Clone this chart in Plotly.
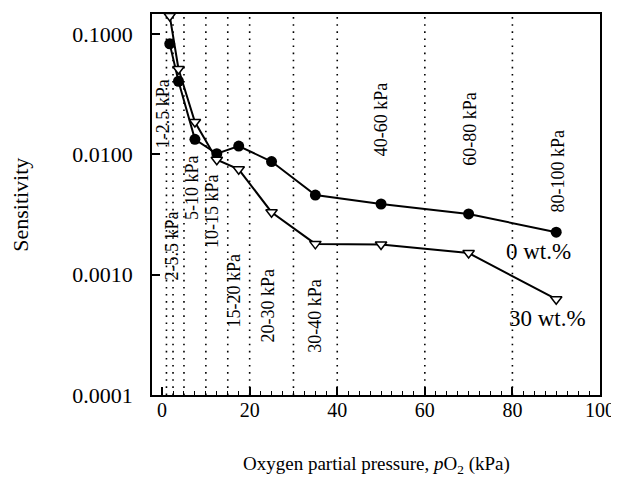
import plotly.graph_objects as go

# ---- data ----
pressure = [1.75, 3.75, 7.5, 12.5, 17.5, 25, 35, 50, 70, 90]
sens_0wt = [0.0826, 0.0404, 0.0133, 0.0101, 0.0117, 0.0087, 0.00458, 0.00386, 0.00319, 0.00225]
sens_30wt = [0.141, 0.0511, 0.0185, 0.0090, 0.0075, 0.0033, 0.0018, 0.00178, 0.00151, 0.000625]
boundaries = [1, 2.5, 5, 10, 15, 20, 30, 40, 60, 80]
interval_labels = ["1-2.5 kPa", "2-5.5 kPa", "5-10 kPa", "10-15 kPa", "15-20 kPa",
                   "20-30 kPa", "30-40 kPa", "40-60 kPa", "60-80 kPa", "80-100 kPa"]
label_x = [0.4, 2.2, 6.8, 11.4, 16.2, 24.2, 35, 50.2, 70.4, 90.5]
label_logy = [-1.661, -2.76, -2.273, -2.471, -3.132, -3.256, -3.339, -1.711, -1.785, -2.14]
y_tickvals = [0.0001, 0.001, 0.01, 0.1]
y_ticktext = ["0.0001", "0.0010", "0.0100", "0.1000"]
x_tickvals = [0, 20, 40, 60, 80, 100]

FONT = "Liberation Serif"

fig = go.Figure()
fig.add_trace(go.Scatter(
    x=pressure, y=sens_0wt, mode="lines+markers",
    line=dict(color="black", width=2),
    marker=dict(symbol="circle", size=11, color="black"),
    name="0 wt.%", showlegend=False))
fig.add_trace(go.Scatter(
    x=pressure, y=sens_30wt, mode="lines+markers",
    line=dict(color="black", width=2),
    marker=dict(symbol="triangle-down", size=10, color="white",
                line=dict(color="black", width=1.5)),
    name="30 wt.%", showlegend=False))

shapes = []
for b in boundaries:
    shapes.append(dict(type="line", xref="x", yref="y domain", x0=b, x1=b, y0=0, y1=1,
                       line=dict(color="black", width=1.6, dash="1.6px,5.5px"), layer="below"))

annotations = []
for t, lx, ly in zip(interval_labels, label_x, label_logy):
    annotations.append(dict(x=lx, y=ly, xref="x", yref="y", text=t, textangle=-90,
                            showarrow=False, font=dict(family=FONT, size=18, color="black")))
annotations.append(dict(x=85.9, y=-2.81, xref="x", yref="y", text="0 wt.%", showarrow=False,
                        font=dict(family=FONT, size=23, color="black")))
annotations.append(dict(x=87.9, y=-3.364, xref="x", yref="y", text="30 wt.%", showarrow=False,
                        font=dict(family=FONT, size=23, color="black")))
# axis titles placed in paper coordinates
annotations.append(dict(x=0.5, y=-0.184, xref="paper", yref="paper", yanchor="middle",
                        text="Oxygen partial pressure, <i>p</i>O<sub>2</sub> (kPa)",
                        showarrow=False, font=dict(family=FONT, size=19, color="black")))
annotations.append(dict(x=-0.294, y=0.5, xref="paper", yref="paper", xanchor="center",
                        text="Sensitivity", textangle=-90,
                        showarrow=False, font=dict(family=FONT, size=22, color="black")))

fig.update_layout(
    width=611, height=474,
    margin=dict(l=144, r=19, t=6, b=87, autoexpand=False),
    paper_bgcolor="white", plot_bgcolor="white",
    font=dict(family=FONT, color="black"),
    shapes=shapes, annotations=annotations,
    xaxis=dict(range=[-2.3, 100], tickvals=x_tickvals, ticks="inside", ticklen=8,
               tickwidth=1.5, tickcolor="black", automargin=False, ticklabelstandoff=-4,
               minor=dict(dtick=2.5, tick0=0, ticks="inside", ticklen=4, tickwidth=1.2,
                          tickcolor="black"),
               showline=True, linecolor="black", linewidth=1.8, mirror=True,
               showgrid=False, zeroline=False,
               tickfont=dict(family=FONT, size=20, color="black")),
    yaxis=dict(type="log", range=[-4, -0.835], tickvals=y_tickvals, ticktext=y_ticktext,
               ticks="inside", ticklen=8, tickwidth=1.5, tickcolor="black", automargin=False,
               showline=True, linecolor="black", linewidth=1.8, mirror=True,
               showgrid=False, zeroline=False, ticklabelstandoff=13,
               tickfont=dict(family=FONT, size=22, color="black")),
)

fig.write_html("out.html")
